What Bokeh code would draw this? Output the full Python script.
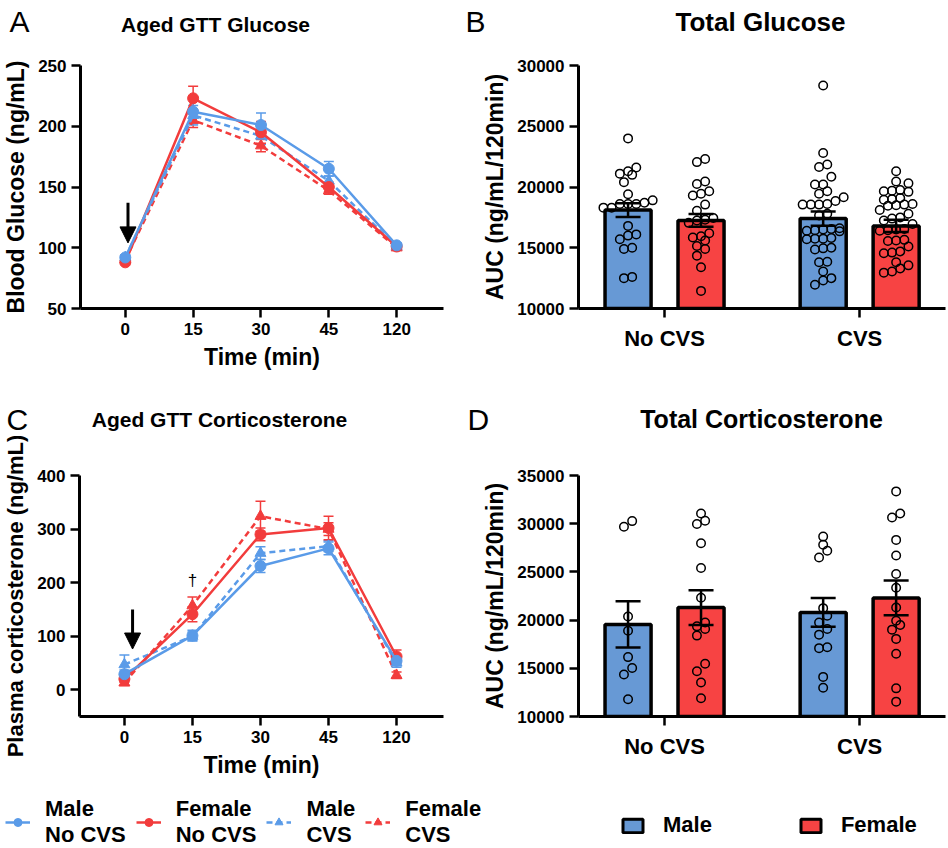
import numpy as np
from bokeh.plotting import figure
from bokeh.layouts import column, row
from bokeh.models import (ColumnDataSource, Whisker, TeeHead, Arrow, NormalHead, Label,
                          FixedTicker, Legend, LegendItem, Range1d)
from bokeh.embed import file_html
from bokeh.resources import INLINE

FONT = "Liberation Sans"
BLUE = "#5A9BE8"
RED = "#F23C3C"
BAR_BLUE = "#6799D5"
BAR_RED = "#F74343"

# ---------------- data ----------------
time_labels = ["0", "15", "30", "45", "120"]

glu_male_nocvs = [92, 212, 201, 165, 102]
glu_male_nocvs_sem = [2, 10, 10, 6, 2]
glu_female_nocvs = [88, 223, 195, 150, 101]
glu_female_nocvs_sem = [2, 10, 9, 4, 2]
glu_male_cvs = [92, 209, 192, 155, 101]
glu_male_cvs_sem = [2, 8, 7, 4, 2]
glu_female_cvs = [90, 205, 184, 147, 100]
glu_female_cvs_sem = [2, 6, 5, 3, 2]

cort_male_nocvs = [29, 101, 231, 264, 54]
cort_male_nocvs_sem = [8, 10, 12, 12, 8]
cort_female_nocvs = [20, 141, 290, 302, 62]
cort_female_nocvs_sem = [6, 14, 12, 22, 12]
cort_male_cvs = [47, 100, 255, 268, 50]
cort_male_cvs_sem = [18, 8, 12, 10, 8]
cort_female_cvs = [13, 157, 324, 300, 27]
cort_female_cvs_sem = [5, 16, 28, 12, 6]

groups = ["No CVS", "CVS"]

auc_glu_male_mean = [18100, 17400]
auc_glu_male_sem = [570, 580]
auc_glu_female_mean = [17250, 16800]
auc_glu_female_sem = [520, 500]
auc_glu_male_nocvs = [24000, 21600, 21300, 21000, 21100, 20400, 19400, 18700, 18300, 18300,
                      18600, 18900, 18600, 18600, 16800, 16100, 16000, 15700, 15000, 14900,
                      12600, 12500]
auc_glu_female_nocvs = [22300, 22050, 20450, 20250, 19650, 19450, 19300, 18550, 18050, 17450,
                        17300, 17250, 17050, 16200, 15950, 15850, 15600, 15150, 14900, 14350,
                        13400, 11450]
auc_glu_male_cvs = [28350, 22800, 21850, 21650, 20850, 20200, 20200, 19650, 19450, 19150,
                    18850, 18600, 18550, 18550, 18550, 17800, 17650, 16600, 16550, 16500,
                    16450, 16400, 16350, 15800, 15750, 15750, 15700, 15000, 14950, 14850,
                    13850, 13800, 13050, 12500, 12300, 11950]
auc_glu_female_cvs = [21300, 20450, 20300, 19750, 19700, 19650, 19600, 19100, 19000, 18950,
                      18600, 18550, 18500, 18450, 18100, 17800, 17500, 17400, 17250, 16950,
                      16550, 16500, 16450, 16400, 15650, 15600, 15550, 15100, 14700, 14600,
                      14550, 13800, 13550, 13300, 13050, 12950]

auc_cort_male_mean = [19550, 20800]
auc_cort_male_sem = [2400, 1500]
auc_cort_female_mean = [21300, 22300]
auc_cort_female_sem = [1800, 1800]
auc_cort_male_nocvs = [30270, 29690, 20370, 18900, 16160, 15030, 14350, 11790]
auc_cort_female_nocvs = [31050, 30300, 29960, 27970, 25400, 22320, 19760, 19350, 19080, 18390,
                         15480, 14690, 13530, 11890]
auc_cort_male_cvs = [28660, 27810, 27190, 26500, 21240, 20450, 19760, 19080, 18490, 17190,
                     17090, 14110, 12980]
auc_cort_female_cvs = [33350, 31050, 30640, 28320, 26710, 24790, 23350, 21300, 19930, 19490,
                       19010, 18050, 16510, 12920, 11540]

# ---------------- helpers ----------------

def blank(p):
    p.axis.visible = False
    p.grid.visible = False
    p.outline_line_color = None
    p.background_fill_color = "white"
    p.border_fill_color = "white"


def style(p, xsize="17px", ylabsize="23px"):
    p.grid.visible = False
    p.outline_line_color = None
    p.background_fill_color = "white"
    p.border_fill_color = "white"
    for ax in (p.xaxis[0], p.yaxis[0]):
        ax.axis_line_width = 3
        ax.axis_line_color = "black"
        ax.major_tick_line_width = 2.5
        ax.major_tick_line_color = "black"
        ax.major_tick_out = 9
        ax.major_tick_in = 0
        ax.minor_tick_out = 0
        ax.minor_tick_in = 0
        ax.major_label_text_font = FONT
        ax.major_label_text_font_style = "bold"
        ax.major_label_text_font_size = "17px"
        ax.major_label_text_color = "black"
        ax.axis_label_text_font = FONT
        ax.axis_label_text_font_style = "bold"
        ax.axis_label_text_font_size = "23px"
        ax.axis_label_text_color = "black"
        ax.major_label_standoff = 5
        ax.axis_label_standoff = 6
    p.xaxis[0].major_label_text_font_size = xsize
    p.yaxis[0].axis_label_text_font_size = ylabsize


def header(width, height, entries):
    h = figure(width=width, height=height, x_range=Range1d(0, width), y_range=Range1d(0, height),
               output_backend="svg", toolbar_location=None, title=None, min_border=0)
    blank(h)
    for text, x, y, size, fstyle, align in entries:
        h.add_layout(Label(x=x, y=y, x_units="screen", y_units="screen", text=text,
                           text_font=FONT, text_font_size=size, text_font_style=fstyle,
                           text_color="black", text_baseline="alphabetic", text_align=align))
    return h


def series(p, ys, sem, color, dash, marker):
    x = list(range(len(ys)))
    src = ColumnDataSource(dict(x=x, y=ys,
                                upper=[a + b for a, b in zip(ys, sem)],
                                lower=[a - b for a, b in zip(ys, sem)]))
    p.add_layout(Whisker(source=src, base="x", upper="upper", lower="lower",
                         line_color=color, line_width=1.5,
                         upper_head=TeeHead(size=10, line_color=color, line_width=1.5),
                         lower_head=TeeHead(size=10, line_color=color, line_width=1.5)))
    p.line("x", "y", source=src, line_color=color, line_width=2.5, line_dash=dash)
    p.scatter("x", "y", source=src, marker=marker, size=11, fill_color=color, line_color=color)


def line_panel(ylabel, yr, yticks, sets, arrow, dagger, top, bottom, ylabsize):
    p = figure(width=478, height=top + 243 + bottom, x_range=Range1d(-0.66, 4.69),
               y_range=Range1d(*yr), output_backend="svg", toolbar_location=None,
               title=None, min_border_left=77, min_border_right=35,
               min_border_top=top, min_border_bottom=bottom)
    style(p, ylabsize=ylabsize)
    p.xaxis.ticker = FixedTicker(ticks=list(range(len(time_labels))))
    p.xaxis.major_label_overrides = {i: t for i, t in enumerate(time_labels)}
    p.yaxis.ticker = FixedTicker(ticks=yticks)
    p.xaxis.axis_label = "Time (min)"
    p.yaxis.axis_label = ylabel
    for ys, sem, color, dash, marker in sets:
        series(p, ys, sem, color, dash, marker)
    ax, ay0, ay1 = arrow
    p.add_layout(Arrow(x_start=ax, y_start=ay0, x_end=ax, y_end=ay1, line_width=3,
                       line_color="black",
                       end=NormalHead(size=16, fill_color="black", line_color="black")))
    if dagger is not None:
        p.add_layout(Label(x=dagger[0], y=dagger[1], text="\u2020", text_font=FONT,
                           text_font_size="17px", text_align="center",
                           text_baseline="bottom", text_color="black"))
    return p


def swarm(values, center, ydiam, xstep):
    v = np.asarray(values, float)
    order = np.argsort(v)
    xs = np.zeros(len(v))
    rows, cur = [], [order[0]]
    for i in order[1:]:
        if v[i] - v[cur[0]] < ydiam:
            cur.append(i)
        else:
            rows.append(cur)
            cur = [i]
    rows.append(cur)
    for r in rows:
        n = len(r)
        for k, i in enumerate(r):
            xs[i] = center + (k - (n - 1) / 2) * xstep
    return xs


def bar_panel(yr, yticks, male_mean, male_sem, fem_mean, fem_sem, pts, top, bottom):
    p = figure(width=470, height=top + 243 + bottom, x_range=Range1d(-0.441, 1.44),
               y_range=Range1d(*yr), output_backend="svg", toolbar_location=None,
               title=None, min_border_left=100, min_border_right=3,
               min_border_top=top, min_border_bottom=bottom)
    style(p, xsize="22px")
    p.xaxis.ticker = FixedTicker(ticks=[0, 1])
    p.xaxis.major_label_overrides = {i: g for i, g in enumerate(groups)}
    p.xaxis.major_label_standoff = 8
    p.yaxis.ticker = FixedTicker(ticks=yticks)
    p.yaxis.axis_label = "AUC (ng/mL/120min)"
    off = 0.187
    xm = [i - off for i in range(len(groups))]
    xf = [i + off for i in range(len(groups))]
    p.vbar(x=xm, top=male_mean, bottom=yr[0], width=0.236, fill_color=BAR_BLUE,
           line_color="black", line_width=3.5)
    p.vbar(x=xf, top=fem_mean, bottom=yr[0], width=0.236, fill_color=BAR_RED,
           line_color="black", line_width=3.5)
    upp = (yr[1] - yr[0]) / 243.0
    for (vals, cx) in zip(pts, [xm[0], xf[0], xm[1], xf[1]]):
        xs = swarm(vals, cx, 8 * upp, 8.2 / 195.0)
        p.scatter(xs, vals, marker="circle", size=8.5, fill_alpha=0, line_color="black",
                  line_width=1.5)
    for xx, mm, ss in ((xm, male_mean, male_sem), (xf, fem_mean, fem_sem)):
        src = ColumnDataSource(dict(x=xx, upper=[a + b for a, b in zip(mm, ss)],
                                    lower=[a - b for a, b in zip(mm, ss)]))
        p.add_layout(Whisker(source=src, base="x", upper="upper", lower="lower",
                             line_color="black", line_width=2.5, level="overlay",
                             upper_head=TeeHead(size=25, line_color="black", line_width=2.5),
                             lower_head=TeeHead(size=25, line_color="black", line_width=2.5)))
    return p


# ---------------- panels ----------------
H1 = header(948, 40, [("A", 9, 19.3, "30px", "normal", "left"),
                      ("Aged GTT Glucose", 215, 16.5, "21px", "bold", "center"),
                      ("B", 465, 19.3, "30px", "normal", "left"),
                      ("Total Glucose", 760, 18.1, "26px", "bold", "center")])

pA = line_panel("Blood Glucose (ng/mL)", (50, 250), [50, 100, 150, 200, 250],
                [(glu_female_cvs, glu_female_cvs_sem, RED, "6 4", "triangle"),
                 (glu_male_cvs, glu_male_cvs_sem, BLUE, "6 4", "triangle"),
                 (glu_female_nocvs, glu_female_nocvs_sem, RED, "solid", "circle"),
                 (glu_male_nocvs, glu_male_nocvs_sem, BLUE, "solid", "circle")],
                (0.04, 137, 104), None, 25, 88, "23px")

pB = bar_panel((10000, 30000), [10000, 15000, 20000, 25000, 30000],
               auc_glu_male_mean, auc_glu_male_sem, auc_glu_female_mean, auc_glu_female_sem,
               [auc_glu_male_nocvs, auc_glu_female_nocvs, auc_glu_male_cvs, auc_glu_female_cvs],
               25, 88)

H2 = header(948, 40, [("C", 6, 17.3, "30px", "normal", "left"),
                      ("Aged GTT Corticosterone", 219, 17.5, "21px", "bold", "center"),
                      ("D", 467, 17.3, "30px", "normal", "left"),
                      ("Total Corticosterone", 761, 17.75, "25px", "bold", "center")])

pC = line_panel("Plasma corticosterone (ng/mL)", (-50, 400), [0, 100, 200, 300, 400],
                [(cort_female_cvs, cort_female_cvs_sem, RED, "6 4", "triangle"),
                 (cort_male_cvs, cort_male_cvs_sem, BLUE, "6 4", "triangle"),
                 (cort_female_nocvs, cort_female_nocvs_sem, RED, "solid", "circle"),
                 (cort_male_nocvs, cort_male_nocvs_sem, BLUE, "solid", "circle")],
                (0.12, 150, 76), (1, 186), 39, 67, "22px")

pD = bar_panel((10000, 35000), [10000, 15000, 20000, 25000, 30000, 35000],
               auc_cort_male_mean, auc_cort_male_sem, auc_cort_female_mean, auc_cort_female_sem,
               [auc_cort_male_nocvs, auc_cort_female_nocvs, auc_cort_male_cvs, auc_cort_female_cvs],
               37, 69)

# ---------------- legends ----------------
pL = figure(width=948, height=63, x_range=Range1d(0, 1), y_range=Range1d(0, 1),
            output_backend="svg", toolbar_location=None, title=None, min_border=0)
blank(pL)

NAN = [float("nan")]
line_items = []
for lab, color, dash, marker in (("Male\nNo CVS", BLUE, "solid", "circle"),
                                 ("Female\nNo CVS", RED, "solid", "circle"),
                                 ("Male\nCVS", BLUE, "6 4", "triangle"),
                                 ("Female\nCVS", RED, "6 4", "triangle")):
    rl = pL.line(x=NAN, y=NAN, line_color=color, line_width=2.5, line_dash=dash)
    rs = pL.scatter(x=NAN, y=NAN, marker=marker, size=10, fill_color=color, line_color=color)
    line_items.append(LegendItem(label=lab, renderers=[rl, rs]))

bar_items = []
for lab, color in (("Male", BAR_BLUE), ("Female", BAR_RED)):
    rb = pL.vbar(x=NAN, top=NAN, width=0.1, fill_color=color, line_color="black", line_width=3)
    bar_items.append(LegendItem(label=lab, renderers=[rb]))

for items, loc, spacing, standoff, gh in ((line_items, (5, 0), 10, 15, 20),
                                          (bar_items, (620, 10), 86, 18, 17)):
    lg = Legend(items=items, orientation="horizontal", location=loc, spacing=spacing,
                label_standoff=standoff, glyph_width=25, glyph_height=gh, padding=0,
                margin=0, border_line_color=None, background_fill_alpha=0,
                label_text_font=FONT, label_text_font_style="bold",
                label_text_font_size="22px", label_text_color="black")
    pL.add_layout(lg)

layout = column(H1, row(pA, pB), H2, row(pC, pD), pL, spacing=0)
open("out.html", "w").write(file_html(layout, INLINE))
